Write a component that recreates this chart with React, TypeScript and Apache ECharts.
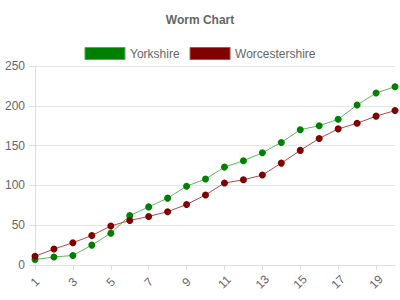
import React, { useEffect, useRef } from "react";
import * as echarts from "echarts";

const overs = ["1","2","3","4","5","6","7","8","9","10","11","12","13","14","15","16","17","18","19","20"];
const yorkshire = [7, 10, 12, 25, 40, 62, 73, 84, 99, 108, 123, 131, 141, 154, 170, 175, 183, 201, 216, 224];
const worcestershire = [11, 20, 28, 37, 49, 56, 61, 67, 76, 88, 103, 107, 113, 128, 144, 159, 171, 178, 187, 194];

export default function App() {
  const ref = useRef<HTMLDivElement>(null);
  useEffect(() => {
    const chart = echarts.init(ref.current!, null, { renderer: "svg" });
    const font = "Liberation Sans, Arial, sans-serif";
    chart.setOption({
      animation: false,
      title: {
        text: "Worm Chart",
        left: "center",
        top: 9,
        textStyle: { fontFamily: font, fontSize: 12, fontWeight: "bold", color: "#666" },
      },
      legend: {
        top: 42,
        left: "center",
        itemWidth: 40,
        itemHeight: 12,
        itemGap: 10,
        icon: "rect",
        textStyle: { fontFamily: font, fontSize: 12, color: "#666" },
        data: [
          { name: "Yorkshire", itemStyle: { color: "#008000", borderColor: "#4caf50", borderWidth: 1 } },
          { name: "Worcestershire", itemStyle: { color: "#800000", borderColor: "#b05050", borderWidth: 1 } },
        ],
      },
      grid: { left: 35, right: 5, top: 66, bottom: 35 },
      xAxis: {
        type: "category",
        boundaryGap: false,
        data: overs,
        axisLine: { lineStyle: { color: "#ddd" } },
        axisTick: { interval: 1, length: 5, lineStyle: { color: "#ddd" } },
        axisLabel: {
          interval: 1,
          rotate: 45,
          align: "center",
          verticalAlign: "middle",
          margin: 17,
          fontFamily: font,
          fontSize: 12,
          color: "#666",
        },
      },
      yAxis: {
        type: "value",
        min: 0,
        max: 250,
        interval: 50,
        axisLine: { show: true, lineStyle: { color: "#ddd" } },
        axisTick: { show: true, length: 6, lineStyle: { color: "#ddd" } },
        axisLabel: { fontFamily: font, fontSize: 12, color: "#666", margin: 10 },
        splitLine: { lineStyle: { color: "#e6e6e6" } },
      },
      series: [
        {
          name: "Yorkshire",
          type: "line",
          data: yorkshire,
          symbol: "circle",
          symbolSize: 7,
          itemStyle: { color: "#008000" },
          lineStyle: { color: "#5cb85c", width: 1 },
        },
        {
          name: "Worcestershire",
          type: "line",
          data: worcestershire,
          symbol: "circle",
          symbolSize: 7,
          itemStyle: { color: "#800000" },
          lineStyle: { color: "#b04a4a", width: 1 },
        },
      ],
    });
    return () => chart.dispose();
  }, []);
  return <div ref={ref} style={{ width: 400, height: 300, position: "absolute", left: 0, top: 0 }} />;
}
